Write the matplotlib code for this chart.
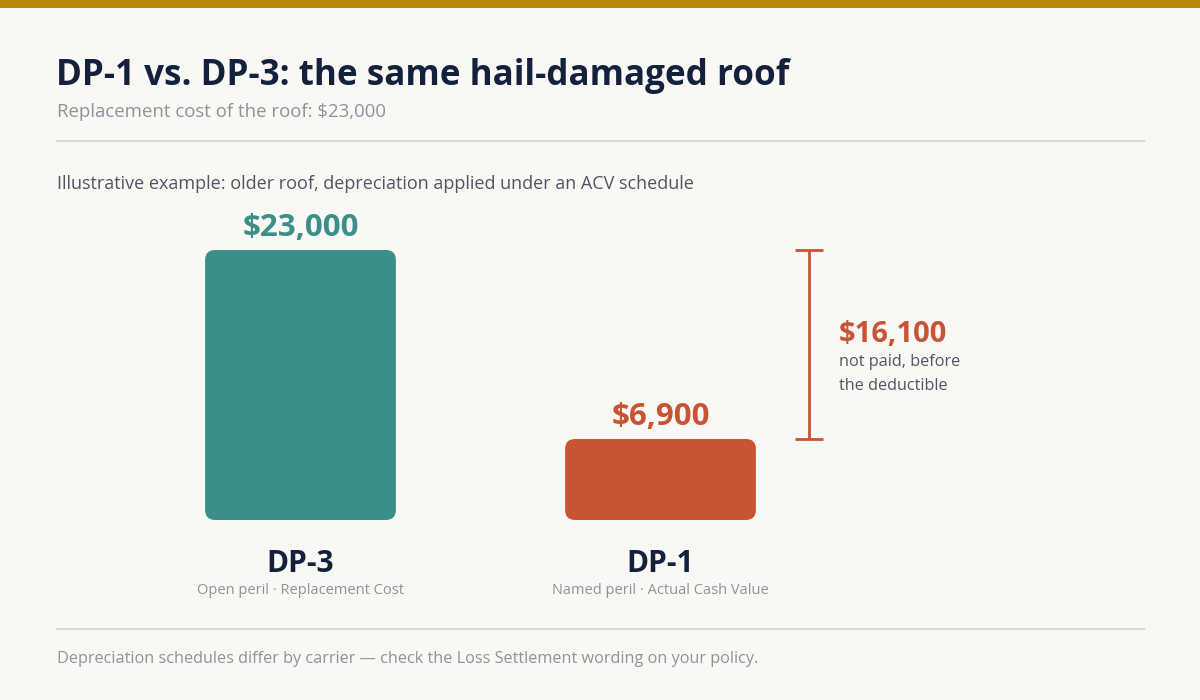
import matplotlib
matplotlib.use("Agg")
import matplotlib.pyplot as plt
from matplotlib.patches import FancyBboxPatch, Rectangle
from matplotlib.lines import Line2D

# data
plans = ["DP-3", "DP-1"]
plan_notes = ["Open peril · Replacement Cost", "Named peril · Actual Cash Value"]
payouts = [23000, 6900]
value_labels = ["$23,000", "$6,900"]
gap_label = "$16,100"
gap_note = ["not paid, before", "the deductible"]

title = "DP-1 vs. DP-3: the same hail-damaged roof"
subtitle = "Replacement cost of the roof: $23,000"
note = "Illustrative example: older roof, depreciation applied under an ACV schedule"
footer = "Depreciation schedules differ by carrier — check the Loss Settlement wording on your policy."

BG = "#FAF8F4"
GOLD = "#B8860B"
TEAL = "#3A9088"
RUST = "#C75433"
NAVY = "#14213D"
GREY = "#8E939B"
DARK = "#4F5663"
RULE = "#DDD9D1"

plt.rcParams["font.family"] = ["Open Sans", "DejaVu Sans"]

W, H = 1200, 700
fig = plt.figure(figsize=(12, 7), dpi=100, facecolor=BG)


def fy(py):
    # pixel from top -> figure fraction
    return 1 - py / H


def fx(px):
    return px / W


# top gold band and rules
fig.add_artist(Rectangle((0, fy(8)), 1, 8 / H, transform=fig.transFigure,
                         facecolor=GOLD, edgecolor="none"))
for py in (141, 629):
    fig.add_artist(Line2D([fx(57), fx(1144)], [fy(py), fy(py)], transform=fig.transFigure,
                          color=RULE, lw=1.5))

fig.text(fx(56), fy(85), title, fontsize=25.2, fontweight="bold", color=NAVY, va="baseline")
fig.text(fx(57), fy(117), subtitle, fontsize=13.4, color=GREY, va="baseline")
fig.text(fx(57), fy(189), note, fontsize=13.0, color=DARK, va="baseline")
fig.text(fx(57), fy(663), footer, fontsize=11.7, color=GREY, va="baseline")

# bar axes: y=0 at pixel 520, y=23000 at pixel 250
ax = fig.add_axes([fx(120.5), fy(520), 720 / W, 270 / H])
ax.set_xlim(-0.5, 1.5)
ax.set_ylim(0, max(payouts))
ax.axis("off")

colors = [TEAL, RUST]
bars = ax.bar(range(len(plans)), payouts, width=0.53, color=colors)
# swap plain bars for rounded ones
px_per_x = 720 / 2
y_per_px = max(payouts) / 270
r = 10 / px_per_x
for b, c in zip(bars, colors):
    x0, w, h = b.get_x(), b.get_width(), b.get_height()
    b.remove()
    ax.add_patch(FancyBboxPatch((x0, 0), w, h,
                                boxstyle=f"round,pad=0,rounding_size={r}",
                                mutation_aspect=y_per_px * px_per_x,
                                facecolor=c, edgecolor="none", clip_on=False))

for i, (v, lab, c) in enumerate(zip(payouts, value_labels, colors)):
    ax.annotate(lab, (i, v), xytext=(0, 7), textcoords="offset pixels",
                ha="center", va="bottom", fontsize=22.5, fontweight="bold", color=c,
                annotation_clip=False)
    ax.annotate(plans[i], (i, 0), xytext=(0, -52), textcoords="offset pixels",
                ha="center", va="baseline", fontsize=21.5, fontweight="bold", color=NAVY,
                annotation_clip=False)
    ax.annotate(plan_notes[i], (i, 0), xytext=(0, -74), textcoords="offset pixels",
                ha="center", va="baseline", fontsize=10.5, color=GREY,
                annotation_clip=False)

# bracket showing the gap between the two payouts
bx = 1.4125
cap = 14 / px_per_x
ax.plot([bx, bx], [payouts[1], payouts[0]], color=RUST, lw=2, clip_on=False,
        solid_capstyle="butt")
for yv in (payouts[1], payouts[0]):
    ax.plot([bx - cap, bx + cap], [yv, yv], color=RUST, lw=2, clip_on=False,
            solid_capstyle="butt")

mid = (payouts[0] + payouts[1]) / 2
tx = bx + 30 / px_per_x
ax.annotate(gap_label, (tx, mid), xytext=(0, 3), textcoords="offset pixels",
            ha="left", va="baseline", fontsize=21, fontweight="bold", color=RUST,
            annotation_clip=False)
for k, line in enumerate(gap_note):
    ax.annotate(line, (tx, mid), xytext=(0, -22 - 23 * k), textcoords="offset pixels",
                ha="left", va="baseline", fontsize=11.7, color=DARK,
                annotation_clip=False)

fig.savefig("out.png", dpi=100, facecolor=BG)
